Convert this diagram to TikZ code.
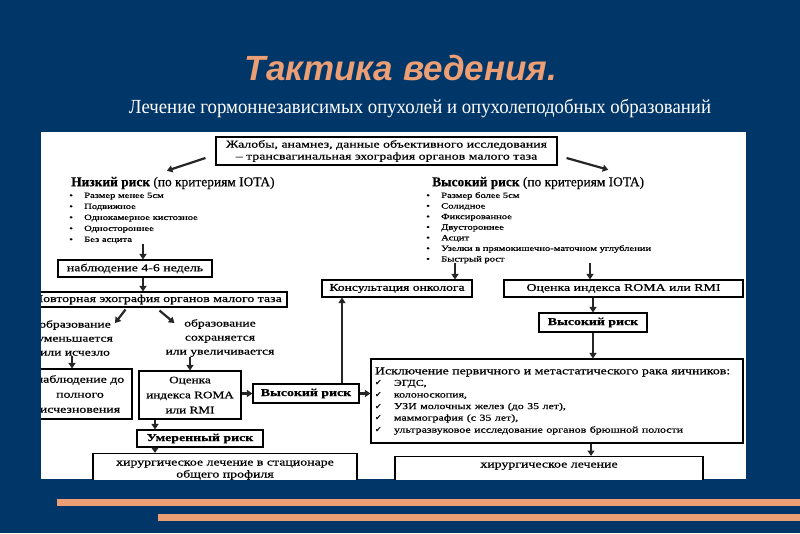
\documentclass[tikz,border=0pt]{standalone}
\usepackage{fontspec}
\setmainfont{Liberation Serif}
\newfontfamily\scanfont[FakeStretch=1.32,FakeBold=0.6]{Liberation Serif}
\newfontfamily\headfont[FakeBold=0.5]{Liberation Serif}
\newfontfamily\subfont[FakeStretch=0.94]{Liberation Serif}
\newfontfamily\titlefont{Liberation Sans}
\newfontfamily\symfont{DejaVu Sans}
\usepackage{xcolor}
\definecolor{slideblue}{RGB}{0,54,104}
\definecolor{slideorange}{RGB}{236,158,116}
\usepackage{tikz}
\usetikzlibrary{arrows.meta,positioning,calc}
\newcommand{\bul}[1]{\makebox[15pt][l]{\textbullet}#1}
\newcommand{\chk}[1]{\makebox[19pt][l]{{\symfont\fontsize{8}{8}\selectfont ✔}}#1}

\begin{document}
\begin{tikzpicture}[x=1pt,y=-1pt,
    box/.style={rectangle, draw=black, line width=1.1pt, fill=white,
                inner sep=0pt, align=center, font=\scanfont\fontsize{10.5}{12}\selectfont},
    riskbox/.style={box, font=\scanfont\bfseries\fontsize{10.5}{13}\selectfont},
    plain/.style={inner sep=0pt, align=center, font=\scanfont\fontsize{10.3}{14}\selectfont},
    head/.style={inner sep=0pt, anchor=west, font=\headfont\fontsize{13.4}{14}\selectfont},
    list/.style={inner sep=0pt, anchor=north west, align=left},
    arr/.style={-{Triangle[length=5.5pt,width=7pt]}, line width=2.2pt, black!85},
  ]
  % slide
  \fill[slideblue] (0,0) rectangle (800,533);
  \node[text=slideorange, font=\titlefont\bfseries\itshape\fontsize{35}{38}\selectfont]
       (title) at (401,68) {Тактика ведения.};
  \node[text=white, font=\subfont\fontsize{20}{22}\selectfont]
       (subtitle) at (420,108) {Лечение гормоннезависимых опухолей и опухолеподобных образований};
  \fill[slideorange] (57,499) rectangle (800,506);
  \fill[slideorange] (158,514) rectangle (800,521);
  \fill[white] (41,132) rectangle (746,479);

  \begin{scope}
  \clip (41,132) rectangle (746,479);
  % top
  \node[box, minimum width=341pt, minimum height=28pt] (complaints) at (386.5,151)
       {Жалобы, анамнез, данные объективного исследования\\
        – трансвагинальная эхография органов малого таза};

  % low risk branch
  \node[head] (lowrisk) at (71,183) {\textbf{Низкий риск} (по критериям IOTA)};
  \node[list, font=\scanfont\fontsize{8}{11}\selectfont] (lowlist) at (69,192.5)
       {\bul{Размер менее 5см}\\ \bul{Подвижное}\\ \bul{Однокамерное кистозное}\\
        \bul{Одностороннее}\\ \bul{Без асцита}};
  \node[box, minimum width=154pt, minimum height=17pt] (watch46) at (135,268.5)
       {наблюдение 4-6 недель};
  \node[box, minimum width=259pt, minimum height=15pt] (repeat) at (157.5,299.5)
       {Повторная эхография органов малого таза};
  \node[plain] (shrink) at (75,338) {образование\\уменьшается\\или исчезло};
  \node[plain] (grow) at (220,338) {образование\\сохраняется\\или увеличивается};
  \node[box, minimum width=104pt, minimum height=50pt, font=\scanfont\fontsize{10.5}{15}\selectfont]
       (watchfull) at (80,394) {наблюдение до\\полного\\исчезновения};
  \node[box, minimum width=102pt, minimum height=48pt, font=\scanfont\fontsize{10}{15}\selectfont]
       (romaL) at (190,395) {Оценка\\индекса ROMA\\или RMI};
  \node[riskbox, minimum width=106pt, minimum height=19pt] (highL) at (306,393.5) {Высокий риск};
  \node[riskbox, minimum width=126pt, minimum height=17pt] (moderate) at (200,438.5) {Умеренный риск};
  \node[box, minimum width=264pt, minimum height=50pt, anchor=north, inner ysep=7pt, text depth=30pt]
       (surgL) at (225,453) {хирургическое лечение в стационаре\\общего профиля};

  % high risk branch
  \node[head] (highrisk) at (432,183) {\textbf{Высокий риск} (по критериям IOTA)};
  \node[list, font=\scanfont\fontsize{8}{10.6}\selectfont] (highlist) at (426,192)
       {\bul{Размер более 5см}\\ \bul{Солидное}\\ \bul{Фиксированное}\\ \bul{Двустороннее}\\
        \bul{Асцит}\\ \bul{Узелки в прямокишечно-маточном углублении}\\ \bul{Быстрый рост}};
  \node[box, minimum width=150pt, minimum height=17pt, font=\scanfont\fontsize{10.3}{12}\selectfont]
       (oncol) at (397,288.5) {Консультация онколога};
  \node[box, minimum width=239pt, minimum height=17pt] (romaR) at (623.5,288.5)
       {Оценка индекса ROMA или RMI};
  \node[riskbox, minimum width=108pt, minimum height=19pt] (highR) at (593,322.5) {Высокий риск};
  \node[box, minimum width=372pt, minimum height=84pt, align=left, text width=364pt]
       (exclude) at (557,401)
       {Исключение первичного и метастатического рака яичников:\\[0pt]
        {\fontsize{9}{11.6}\selectfont
        \chk{ЭГДС,}\\ \chk{колоноскопия,}\\ \chk{УЗИ молочных желез (до 35 лет),}\\
        \chk{маммография (с 35 лет),}\\ \chk{ультразвуковое исследование органов брюшной полости}}};
  \node[box, minimum width=308pt, minimum height=50pt, anchor=north, inner ysep=6pt, text depth=36pt,
        font=\scanfont\fontsize{10.5}{12}\selectfont]
       (surgR) at (549,456) {хирургическое лечение};

  % connectors
  \draw[arr] ($(complaints.west)+(-10,7)$) -- ($(lowrisk.north)+(-6,-6)$);
  \draw[arr] ($(complaints.east)+(9,7)$) -- ($(highrisk.north east)+(-36,-7)$);
  \draw[arr] ([xshift=8pt]watch46.north |- lowlist.south) -- ([xshift=8pt]watch46.north);
  \draw[arr] ([xshift=8pt]watch46.south) -- ([xshift=8pt]watch46.south |- repeat.north);
  \draw[arr] ($(repeat.south)+(-32,2)$) -- ($(shrink.north east)+(2,3)$);
  \draw[arr] ($(repeat.south)+(2,3)$) -- ($(grow.north west)+(9,4)$);
  \draw[arr] ([xshift=-3pt]shrink.south) -- ([xshift=-3pt]shrink.south |- watchfull.north);
  \draw[arr] (romaL.north |- grow.south) -- (romaL.north);
  \draw[arr] (romaL.east |- highL.west) -- (highL.west);
  \draw[arr] (highL.east) -- (highL.east -| exclude.west);
  \draw[arr] ([xshift=36pt]highL.north) -- ([xshift=36pt]highL.north |- oncol.south);
  \draw[arr] ([xshift=58pt]oncol.north |- highlist.south) -- ([xshift=58pt]oncol.north);
  \draw[arr] ([xshift=-33.5pt]romaR.north |- highlist.south) -- ([xshift=-33.5pt]romaR.north);
  \draw[arr] (highR.north |- romaR.south) -- (highR.north);
  \draw[arr] (highR.south) -- (highR.south |- exclude.north);
  \draw[arr] ([xshift=-35pt]romaL.south) -- ([xshift=-35pt]romaL.south |- moderate.north);
  \draw[arr] ([xshift=-45pt]moderate.south) -- ([xshift=-45pt]moderate.south |- surgL.north);
  \draw[arr] ([xshift=34pt]exclude.south) -- ([xshift=34pt]exclude.south |- surgR.north);
  \end{scope}
\end{tikzpicture}
\end{document}
